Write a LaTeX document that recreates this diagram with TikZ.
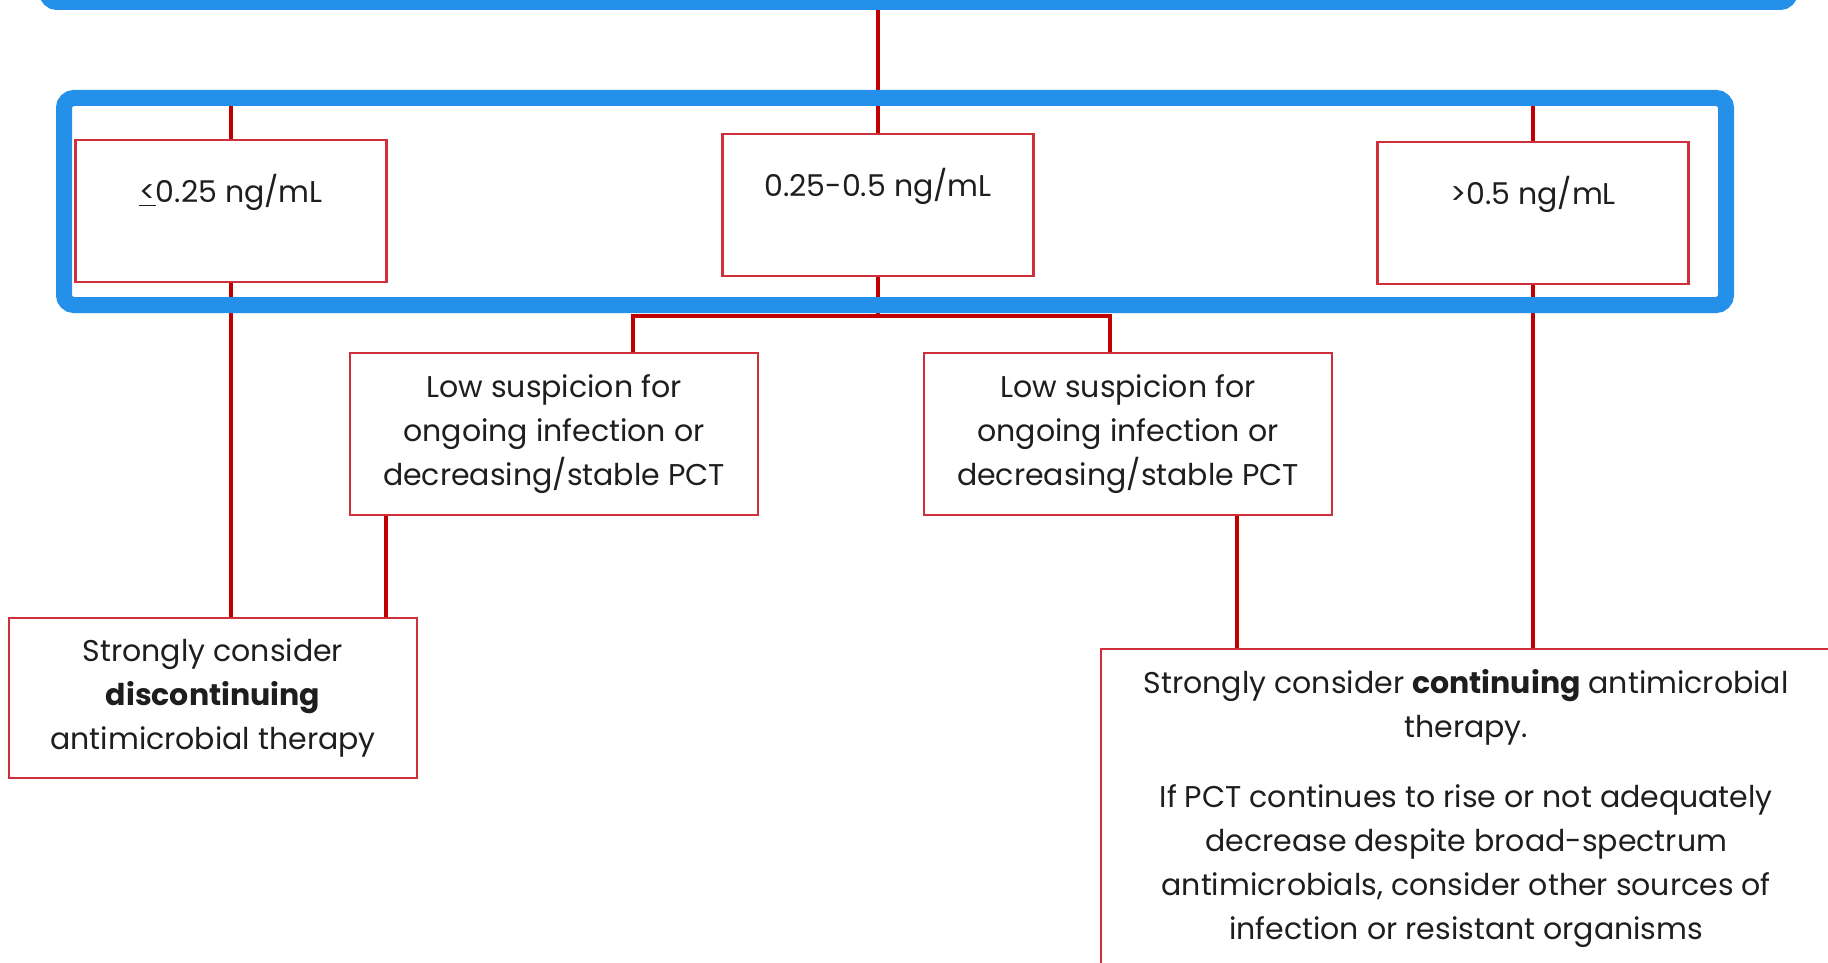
\documentclass[tikz,border=0pt]{standalone}
\usepackage{fontspec}
\setmainfont{Poppins}
\usetikzlibrary{positioning,calc}
\definecolor{hilite}{HTML}{2490EA}
\definecolor{linkred}{HTML}{C00000}
\definecolor{boxred}{HTML}{D0303A}
\definecolor{inkgray}{HTML}{1E1E1E}
\tikzset{
  rangebox/.style={draw=boxred, line width=1.2pt, fill=white, text=inkgray, minimum width=155.5pt, inner ysep=0pt, text height=31pt, text depth=40pt, anchor=north},
  notebox/.style={draw=boxred, line width=1.2pt, fill=white, text=inkgray, align=center, minimum width=204pt, minimum height=81pt},
  link/.style={draw=linkred, line width=2.3pt},
  frame/.style={draw=hilite, line width=8pt, rounded corners=5pt}
}

\begin{document}
\begin{tikzpicture}[x=0.5pt, y=-0.5pt, every node/.style={font=\fontsize{15pt}{22pt}\selectfont}]
  \useasboundingbox (0,0) rectangle (1828,963);
  % PCT ranges
  \node[rangebox] (low) at (231,139) {\underline{<}0.25 ng/mL};
  \node[rangebox] (mid) at (878,133) {0.25-0.5 ng/mL};
  \node[rangebox] (high) at (1533,141) {>0.5 ng/mL};
  % assessment and action
  \node[notebox] (suspL) at (554,434) {Low suspicion for\\ongoing infection or\\decreasing/stable PCT};
  \node[notebox] (suspR) at (1128,434) {Low suspicion for\\ongoing infection or\\decreasing/stable PCT};
  \node[notebox, minimum height=80pt] (stop) at (213,698) {Strongly consider\\\textbf{discontinuing}\\antimicrobial therapy};
  \node[notebox, anchor=north west, minimum width=365pt, minimum height=0pt, inner ysep=10pt] (cont) at (1100,648)
    {Strongly consider \textbf{continuing} antimicrobial\\therapy.\\[13pt]If PCT continues to rise or not adequately\\decrease despite broad-spectrum\\antimicrobials, consider other sources of\\infection or resistant organisms};
  % connectors
  \coordinate (top) at (878,2);
  \coordinate (bus) at (878,98);
  \coordinate (fork) at (878,316);
  \draw[link] (top) -- (mid.north);
  \draw[link] (low.north) |- (bus) -| (high.north);
  \draw[link] (mid.south) -- (fork);
  \draw[link] ($(suspL.north)+(79,0)$) |- (fork) -| ($(suspR.north)+(-18,0)$);
  \draw[link] (low.south) -- (low.south |- stop.north);
  \draw[link] ($(suspL.south west)+(37,0)$) coordinate (d1) -- (d1 |- stop.north);
  \draw[link] ($(suspR.south)+(109,0)$) coordinate (d2) -- (d2 |- cont.north);
  \draw[link] (high.south) -- (high.south |- cont.north);
  % highlight frames
  \draw[frame] (47,-60) rectangle (1790,2);
  \draw[frame] (64,98) rectangle (1726,305);
\end{tikzpicture}
\end{document}
